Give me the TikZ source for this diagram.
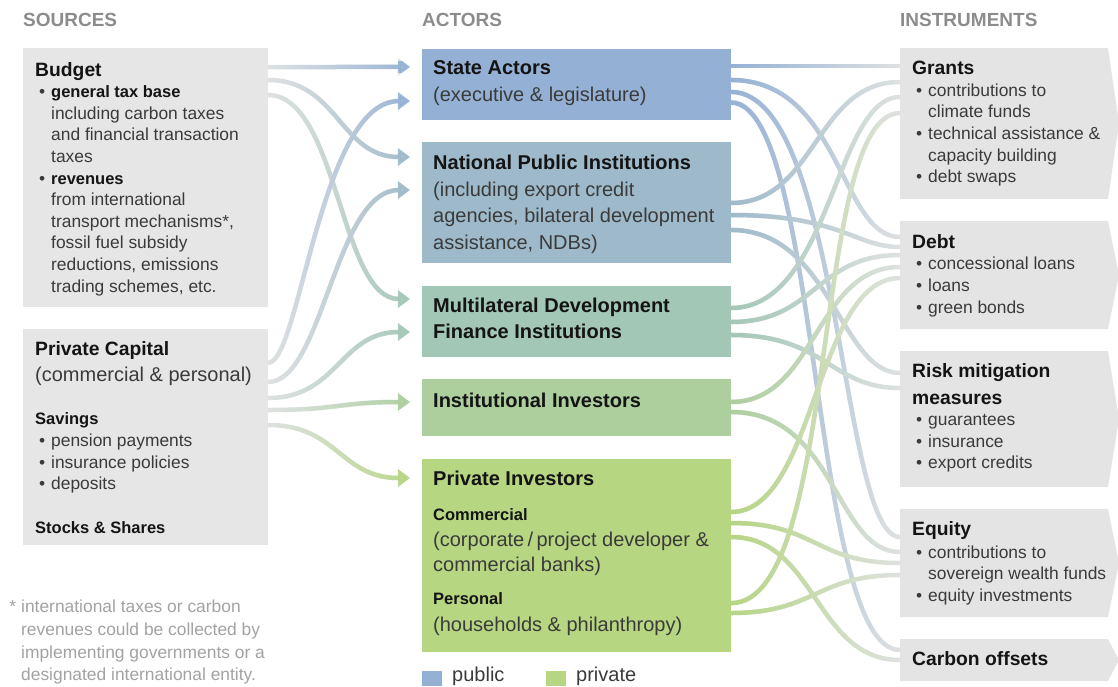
\documentclass[tikz,border=0pt]{standalone}
\usepackage{fontspec}
\setmainfont{Liberation Sans}
\usetikzlibrary{arrows.meta,calc,fadings}

\definecolor{srcgray}{HTML}{E6E6E6}
\definecolor{instgray}{HTML}{E4E4E4}
\definecolor{stateblue}{HTML}{94B1D5}
\definecolor{natblue}{HTML}{9EBACA}
\definecolor{multigreen}{HTML}{A3C7B7}
\definecolor{instgreen}{HTML}{ACCF9D}
\definecolor{privgreen}{HTML}{B6D682}
\definecolor{flowgray}{HTML}{DFE2E2}
\definecolor{headgray}{HTML}{8C8C8C}
\definecolor{notegray}{HTML}{A2A2A2}
\definecolor{bodytext}{HTML}{3A3A3A}
\definecolor{titleblack}{HTML}{141414}

\tikzfading[name=growright, left color=transparent!100, right color=transparent!0]
\tikzfading[name=dieright, left color=transparent!0, right color=transparent!100]

\newcommand{\bul}{\hspace*{4pt}\makebox[12pt][l]{\textbullet}}
\newcommand{\ind}{\hspace*{16pt}}
\newcommand{\bodyfont}{\fontsize{17.4}{21.6}\selectfont}
\newcommand{\actfont}{\fontsize{20}{26.6}\selectfont}
\newcommand{\ttlfont}{\fontsize{19.3}{21.6}\selectfont\bfseries\color{titleblack}}
\newcommand{\acttl}{\fontsize{20}{26.6}\selectfont\bfseries\color{titleblack}}
\newcommand{\subfont}{\fontsize{16.5}{21.6}\selectfont\bfseries\color{titleblack}}

\begin{document}
\begin{tikzpicture}[x=1pt,y=-1pt,
	box/.style={anchor=north west, inner sep=0pt, outer sep=0pt},
	txt/.style={anchor=north west, inner sep=0pt, align=left, text=bodytext, font=\bodyfont},
	acttxt/.style={txt, font=\actfont},
	head/.style={anchor=west, inner sep=0pt, text=headgray, font=\fontsize{19}{22}\selectfont\bfseries},
	flowin/.style={line width=4.5pt, draw=flowgray, -{Triangle[length=12pt,width=17pt]}, shorten >=12pt,
		postaction={draw=#1, path fading=growright}},
	flowout/.style={line width=4.5pt, draw=flowgray, postaction={draw=#1, path fading=dieright}}]
	\useasboundingbox (0,0) rectangle (1118,686);

	% column heads
	\node[head] (hsources) at (23,20) {SOURCES};
	\node[head] (hactors) at (422,20) {ACTORS};
	\node[head] (hinstr) at (900,20) {INSTRUMENTS};

	% sources
	\node[box, fill=srcgray, minimum width=245pt, minimum height=259pt] (budget) at (23,48) {};
	\node[box, fill=srcgray, minimum width=245pt, minimum height=216pt] (privcap) at (23,329) {};

	% actors
	\node[box, fill=stateblue, minimum width=309pt, minimum height=71pt] (state) at (422,49) {};
	\node[box, fill=natblue, minimum width=309pt, minimum height=121pt] (natpub) at (422,142) {};
	\node[box, fill=multigreen, minimum width=309pt, minimum height=71pt] (multi) at (422,286) {};
	\node[box, fill=instgreen, minimum width=309pt, minimum height=57pt] (instinv) at (422,379) {};
	\node[box, fill=privgreen, minimum width=309pt, minimum height=193pt] (privinv) at (422,459) {};

	% instruments
	\node[box, minimum width=208pt, minimum height=151pt] (grants) at (900,48) {};
	\node[box, minimum width=208pt, minimum height=108pt] (debt) at (900,221) {};
	\node[box, minimum width=208pt, minimum height=136pt] (risk) at (900,351) {};
	\node[box, minimum width=208pt, minimum height=108pt] (equity) at (900,509) {};
	\node[box, minimum width=208pt, minimum height=42pt] (offsets) at (900,639) {};
	\foreach \n in {grants,debt,risk,equity,offsets}
		\fill[instgray] (\n.north west) -- (\n.north east) -- ([xshift=11pt]\n.east)
			-- (\n.south east) -- (\n.south west) -- cycle;

	% texts
	\node[txt] (budgettxt) at ([shift={(12,14)}]budget.north west)
		{{\ttlfont Budget}\\
		\bul{\subfont general tax base}\\
		\ind including carbon taxes\\
		\ind and financial transaction\\
		\ind taxes\\
		\bul{\subfont revenues}\\
		\ind from international\\
		\ind transport mechanisms*,\\
		\ind fossil fuel subsidy\\
		\ind reductions, emissions\\
		\ind trading schemes, etc.};
	\node[txt] (privcaptxt) at ([shift={(12,12.8)}]privcap.north west)
		{{\ttlfont Private Capital}\\[4.4pt]
		{\actfont (commercial \& personal)}\\[21.4pt]
		{\subfont Savings}\\
		\bul pension payments\\
		\bul insurance policies\\
		\bul deposits\\[22.4pt]
		{\subfont Stocks \& Shares}};
	\node[txt, text=notegray, font=\fontsize{17.4}{22.7}\selectfont] (note) at (21,600)
		{\llap{*\hspace{5pt}}international taxes or carbon\\
		revenues could be collected by\\
		implementing governments or a\\
		designated international entity.};

	\node[acttxt] (statetxt) at ([shift={(11,11.6)}]state.north west)
		{{\acttl State Actors}\\ (executive \& legislature)};
	\node[acttxt] (natpubtxt) at ([shift={(11,12.8)}]natpub.north west)
		{{\acttl National Public Institutions}\\
		(including export credit\\
		agencies, bilateral development\\
		assistance, NDBs)};
	\node[acttxt] (multitxt) at ([shift={(11,11.4)}]multi.north west)
		{{\acttl Multilateral Development}\\ {\acttl Finance Institutions}};
	\node[acttxt] (instinvtxt) at ([shift={(11,13.4)}]instinv.north west)
		{{\acttl Institutional Investors}};
	\node[acttxt] (privinvtxt) at ([shift={(11,11.6)}]privinv.north west)
		{{\acttl Private Investors}\\[8.4pt]
		{\subfont Commercial}\\
		(corporate\,/\,project developer \&\\[-1.6pt]
		commercial banks)\\[6.4pt]
		{\subfont Personal}\\
		(households \& philanthropy)};

	\node[txt] (grantstxt) at ([shift={(12,13)}]grants.north west)
		{{\ttlfont Grants}\\
		\bul contributions to\\
		\ind climate funds\\
		\bul technical assistance \&\\
		\ind capacity building\\
		\bul debt swaps};
	\node[txt] (debttxt) at ([shift={(12,13.2)}]debt.north west)
		{{\ttlfont Debt}\\
		\bul concessional loans\\
		\bul loans\\
		\bul green bonds};
	\node[txt] (risktxt) at ([shift={(12,12)}]risk.north west)
		{{\ttlfont Risk mitigation}\\[5.4pt]
		{\ttlfont measures}\\
		\bul guarantees\\
		\bul insurance\\
		\bul export credits};
	\node[txt] (equitytxt) at ([shift={(12,12)}]equity.north west)
		{{\ttlfont Equity}\\[1.4pt]
		\bul contributions to\\
		\ind sovereign wealth funds\\
		\bul equity investments};
	\node[txt] (offsetstxt) at ([shift={(12,12)}]offsets.north west)
		{{\ttlfont Carbon offsets}};

	% legend
	\node[box, fill=stateblue, minimum width=20pt, minimum height=15pt] (keypub) at (422,671) {};
	\node[box, fill=privgreen, minimum width=20pt, minimum height=15pt] (keypriv) at (546,671) {};
	\node[anchor=base west, inner sep=0pt, font=\actfont, text=bodytext] (keypubtxt) at (452,681) {public};
	\node[anchor=base west, inner sep=0pt, font=\actfont, text=bodytext] (keyprivtxt) at (576,681) {private};

	% sources -> actors
	\draw[flowin=stateblue] (budget.east |- 0,67) .. controls +(70,0.5) and +(-82,-0.5) .. (state.west |- 0,67);
	\draw[flowin=natblue] (budget.east |- 0,80) .. controls +(70,0) and +(-82,0) .. (natpub.west |- 0,157);
	\draw[flowin=multigreen] (budget.east |- 0,95) .. controls +(70,0) and +(-82,0) .. (multi.west |- 0,299);
	\draw[flowin=stateblue] (privcap.east |- 0,363) .. controls +(32,0) and +(-102,0) .. (state.west |- 0,101);
	\draw[flowin=natblue] (privcap.east |- 0,382) .. controls +(55,0) and +(-87,0) .. (natpub.west |- 0,190);
	\draw[flowin=multigreen] (privcap.east |- 0,398) .. controls +(70,0) and +(-82,0) .. (multi.west |- 0,332);
	\draw[flowin=instgreen] (privcap.east |- 0,410) .. controls +(70,0) and +(-82,0) .. (instinv.west |- 0,402);
	\draw[flowin=privgreen] (privcap.east |- 0,425) .. controls +(70,0) and +(-82,0) .. (privinv.west |- 0,478);

	% actors -> instruments
	\draw[flowout=stateblue] (state.east |- 0,66) .. controls +(85,0.5) and +(-85,-0.5) .. (grants.west |- 0,66);
	\draw[flowout=stateblue] (state.east |- 0,80) .. controls +(110,0) and +(-60,0) .. (debt.west |- 0,237);
	\draw[flowout=stateblue] (state.east |- 0,92) .. controls +(110,0) and +(-60,0) .. (equity.west |- 0,537);
	\draw[flowout=stateblue] (state.east |- 0,102) .. controls +(90,0) and +(-90,0) .. (offsets.west |- 0,650);
	\draw[flowout=natblue] (natpub.east |- 0,203) .. controls +(85,0) and +(-85,0) .. (grants.west |- 0,82);
	\draw[flowout=natblue] (natpub.east |- 0,215) .. controls +(110,0) and +(-45,0) .. (debt.west |- 0,247);
	\draw[flowout=natblue] (natpub.east |- 0,230) .. controls +(100,0) and +(-60,0) .. (risk.west |- 0,373);
	\draw[flowout=multigreen] (multi.east |- 0,308) .. controls +(100,0) and +(-65,0) .. (grants.west |- 0,97);
	\draw[flowout=multigreen] (multi.east |- 0,322) .. controls +(85,0) and +(-85,0) .. (debt.west |- 0,255);
	\draw[flowout=multigreen] (multi.east |- 0,335) .. controls +(95,0) and +(-70,0) .. (risk.west |- 0,388);
	\draw[flowout=instgreen] (instinv.east |- 0,402) .. controls +(85,0) and +(-85,0) .. (debt.west |- 0,267);
	\draw[flowout=instgreen] (instinv.east |- 0,412) .. controls +(105,0) and +(-65,0) .. (equity.west |- 0,552);
	\draw[flowout=privgreen] (privinv.east |- 0,512) .. controls +(85,0) and +(-85,0) .. (debt.west |- 0,278);
	\draw[flowout=privgreen] (privinv.east |- 0,523) .. controls +(85,0) and +(-85,0) .. (equity.west |- 0,563);
	\draw[flowout=privgreen] (privinv.east |- 0,537) .. controls +(85,0) and +(-85,0) .. (offsets.west |- 0,660);
	\draw[flowout=privgreen] (privinv.east |- 0,603) .. controls +(110,0) and +(-90,0) .. (grants.west |- 0,113);
	\draw[flowout=privgreen] (privinv.east |- 0,613) .. controls +(85,0) and +(-85,0) .. (equity.west |- 0,575);
\end{tikzpicture}
\end{document}
